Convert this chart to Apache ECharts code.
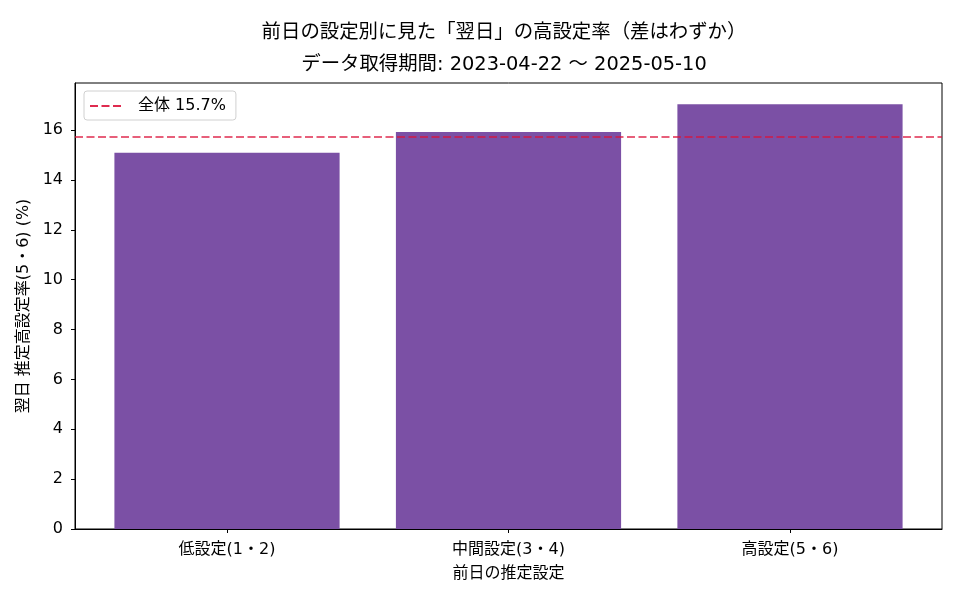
<!DOCTYPE html>
<html>
<head>
<meta charset="utf-8">
<script src="https://cdn.jsdelivr.net/npm/echarts@6/dist/echarts.min.js"></script>
<style>html,body{margin:0;padding:0;background:#fff}#c{width:960px;height:600px}</style>
</head>
<body>
<div id="c"></div>
<script>
const categories = ['低設定(1・2)', '中間設定(3・4)', '高設定(5・6)'];
const rates = [15.09, 15.92, 17.04];
const overallRate = 15.72;
const overallLabel = '全体 15.7%';
const yTicks = [0, 2, 4, 6, 8, 10, 12, 14, 16];
const titleLines = ['前日の設定別に見た「翌日」の高設定率（差はわずか）', 'データ取得期間: 2023-04-22 〜 2025-05-10'];

const FONT = '"DejaVu Sans", "Noto Sans CJK JP", sans-serif';
const xMin = -0.54, xMax = 2.54, yMax = 17.89;
const gridLeft = 75, gridRight = 18, gridTop = 83, gridBottom = 71;
const plotW = 960 - gridLeft - gridRight;
const barPx = 0.8 * plotW / (xMax - xMin);
const LINE_COLOR = 'rgba(220,20,60,0.9)';

const chart = echarts.init(document.getElementById('c'));
chart.setOption({
  animation: false,
  textStyle: { fontFamily: FONT },
  graphic: [
    { type: 'text', x: 504, y: 33, style: { text: titleLines[0], font: '19.4px ' + FONT, fill: '#000', align: 'center', verticalAlign: 'middle' } },
    { type: 'text', x: 504, y: 65, style: { text: titleLines[1], font: '19.4px ' + FONT, fill: '#000', align: 'center', verticalAlign: 'middle' } }
  ],
  grid: { left: gridLeft, right: gridRight, top: gridTop, bottom: gridBottom, show: true, borderColor: '#000', borderWidth: 1, backgroundColor: 'transparent' },
  legend: {
    left: 84, top: 91,
    data: [{ name: overallLabel, itemStyle: { opacity: 0 } }],
    itemWidth: 33, itemHeight: 14,
    padding: [7, 10, 6, 5],
    borderColor: '#d0d0d0', borderWidth: 1, borderRadius: 3,
    textStyle: { fontFamily: FONT, fontSize: 16, color: '#000', padding: [0, 0, 0, 10] }
  },
  xAxis: {
    type: 'value', min: xMin, max: xMax,
    name: '前日の推定設定', nameLocation: 'middle', nameGap: 37,
    nameTextStyle: { fontFamily: FONT, fontSize: 16, color: '#000' },
    axisLine: { show: true, onZero: false, lineStyle: { color: '#000', width: 1 } },
    axisTick: { show: true, length: 4, customValues: [0, 1, 2], lineStyle: { color: '#000' } },
    axisLabel: { customValues: [0, 1, 2], margin: 13, fontFamily: FONT, fontSize: 16, color: '#000',
      formatter: v => categories[Math.round(v)] },
    splitLine: { show: false }
  },
  yAxis: {
    type: 'value', min: 0, max: yMax,
    name: '翌日 推定高設定率(5・6) (%)', nameLocation: 'middle', nameGap: 40,
    nameTextStyle: { fontFamily: FONT, fontSize: 16, color: '#000' },
    axisLine: { show: true, onZero: false, lineStyle: { color: '#000', width: 1 } },
    axisTick: { show: true, length: 4, customValues: yTicks, lineStyle: { color: '#000' } },
    axisLabel: { customValues: yTicks, margin: 12, fontFamily: FONT, fontSize: 16, color: '#000' },
    splitLine: { show: false }
  },
  series: [
    {
      type: 'bar', name: '推定高設定率',
      data: rates.map((r, i) => [i, r]),
      barWidth: barPx,
      itemStyle: { color: '#7B50A5' }
    },
    {
      type: 'line', name: overallLabel,
      data: [[xMin, overallRate], [xMax, overallRate]],
      symbol: 'none',
      lineStyle: { color: LINE_COLOR, width: 1.5, type: [8, 3.5] },
      itemStyle: { color: LINE_COLOR }
    }
  ]
});
</script>
</body>
</html>
